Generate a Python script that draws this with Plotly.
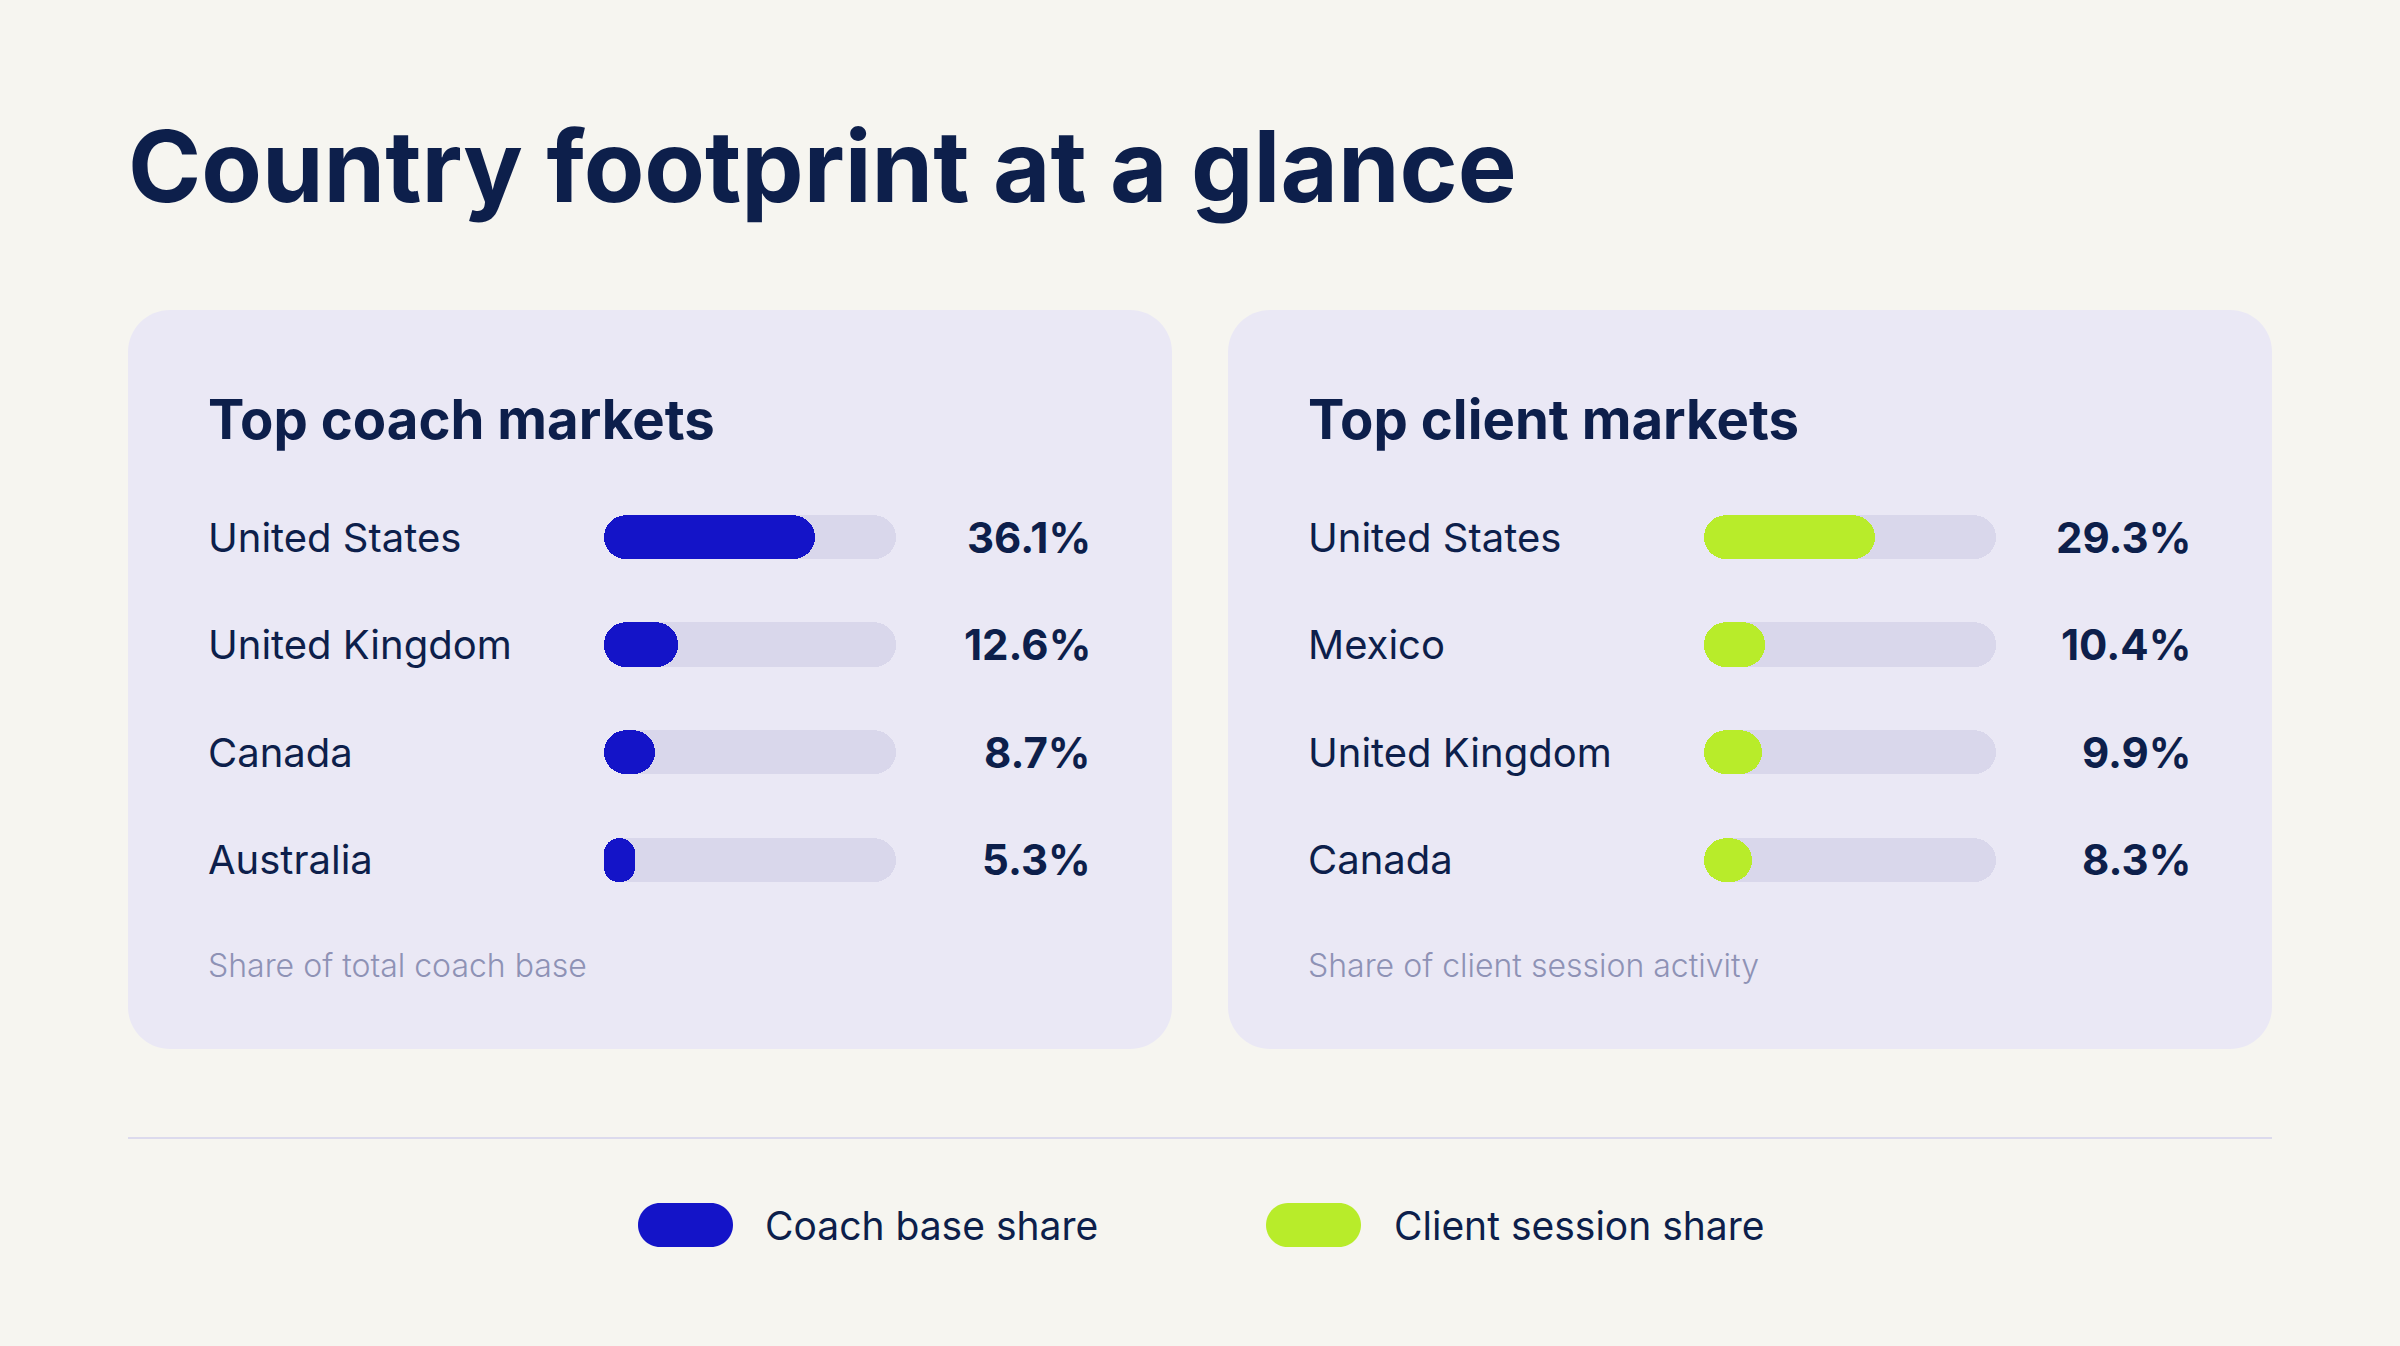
import plotly.graph_objects as go

W, H = 2400, 1346

coach_countries = ["United States", "United Kingdom", "Canada", "Australia"]
coach_share = [36.1, 12.6, 8.7, 5.3]
client_countries = ["United States", "Mexico", "United Kingdom", "Canada"]
client_share = [29.3, 10.4, 9.9, 8.3]
scale_max = 50

BG = "#f6f5f0"
CARD = "#eae8f5"
TRACK = "#d9d7eb"
BLUE = "#1414c8"
GREEN = "#b8ec2a"
INK = "#0d1f4b"
MUTED = "#8e92b5"
FONT = "Inter"

BAR_W = 0.41
RAD = 22


def px(x):
    return x / W


def py(y):
    return 1 - y / H


def round_rect(x0, y0, x1, y1, r):
    # rounded rectangle in paper units, corners drawn with cubic curves
    k = 0.5523 * r
    pts = [
        ("M", [(x0 + r, y0)]),
        ("L", [(x1 - r, y0)]),
        ("C", [(x1 - r + k, y0), (x1, y0 + r - k), (x1, y0 + r)]),
        ("L", [(x1, y1 - r)]),
        ("C", [(x1, y1 - r + k), (x1 - r + k, y1), (x1 - r, y1)]),
        ("L", [(x0 + r, y1)]),
        ("C", [(x0 + r - k, y1), (x0, y1 - r + k), (x0, y1 - r)]),
        ("L", [(x0, y0 + r)]),
        ("C", [(x0, y0 + r - k), (x0 + r - k, y0), (x0 + r, y0)]),
    ]
    s = ""
    for cmd, coords in pts:
        s += cmd + " ".join(f"{px(a):.5f},{py(b):.5f}" for a, b in coords) + " "
    return s + "Z"


def pill(countries, values, color, xa, ya):
    # explicit base -> plotly rounds both ends of the bar
    return go.Bar(
        y=countries, x=values, base=[0] * len(values), orientation="h", width=BAR_W,
        marker=dict(color=color, cornerradius=RAD, line_width=0),
        xaxis=xa, yaxis=ya, hoverinfo="skip", showlegend=False,
    )


fig = go.Figure()
fig.add_trace(pill(coach_countries, [scale_max] * len(coach_countries), TRACK, "x", "y"))
fig.add_trace(pill(coach_countries, coach_share, BLUE, "x", "y"))
fig.add_trace(pill(client_countries, [scale_max] * len(client_countries), TRACK, "x2", "y2"))
fig.add_trace(pill(client_countries, client_share, GREEN, "x2", "y2"))

offset = 1100  # right card shift in px
y_dom = [py(913.8), py(483.2)]
axis_x = dict(range=[0, scale_max], visible=False, fixedrange=True)
axis_y = dict(type="category", range=[len(coach_countries) - 0.5, -0.5],
              visible=False, fixedrange=True)

shapes = [
    dict(type="path", path=round_rect(128, 310, 1172, 1049, 42), xref="paper", yref="paper",
         fillcolor=CARD, line_width=0, layer="below"),
    dict(type="path", path=round_rect(128 + offset, 310, 1172 + offset, 1049, 42), xref="paper",
         yref="paper", fillcolor=CARD, line_width=0, layer="below"),
    dict(type="line", x0=px(128), x1=px(2272), y0=py(1138), y1=py(1138), xref="paper",
         yref="paper", line=dict(color="#dcdaed", width=2), layer="below"),
    dict(type="path", path=round_rect(638, 1203, 733, 1247, 22), xref="paper", yref="paper",
         fillcolor=BLUE, line_width=0),
    dict(type="path", path=round_rect(1266, 1203, 1361, 1247, 22), xref="paper", yref="paper",
         fillcolor=GREEN, line_width=0),
]

ann = []


def text(x, y, s, size, color=INK, weight=400, anchor="left", yref="paper"):
    ann.append(dict(x=x, y=y, xref="paper", yref=yref, text=s, showarrow=False,
                    xanchor=anchor, yanchor="middle",
                    font=dict(family=FONT, size=size, color=color, weight=weight)))


text(px(126), py(166), "Country footprint at a glance", 99, weight=700)

panels = [
    ("Top coach markets", coach_countries, coach_share, "Share of total coach base", 0, "y"),
    ("Top client markets", client_countries, client_share, "Share of client session activity", offset, "y2"),
]
for title, countries, shares, note, dx, yref in panels:
    text(px(206 + dx), py(419), title, 54.5, weight=700)
    for i, (c, v) in enumerate(zip(countries, shares)):
        text(px(206 + dx), i, c, 40, yref=yref)
        text(px(1093 + dx), i, f"{v}%", 42, weight=700, anchor="right", yref=yref)
    text(px(206 + dx), py(965), note, 32, color=MUTED, weight=300)

text(px(763), py(1225), "Coach base share", 39)
text(px(1392), py(1225), "Client session share", 39)

fig.update_layout(
    width=W, height=H,
    margin=dict(l=0, r=0, t=0, b=0),
    paper_bgcolor=BG, plot_bgcolor="rgba(0,0,0,0)",
    barmode="overlay", bargap=0,
    showlegend=False,
    xaxis=dict(axis_x, domain=[px(604), px(896)], anchor="y"),
    yaxis=dict(axis_y, domain=y_dom, anchor="x", categoryarray=coach_countries),
    xaxis2=dict(axis_x, domain=[px(604 + offset), px(896 + offset)], anchor="y2"),
    yaxis2=dict(axis_y, domain=y_dom, anchor="x2", categoryarray=client_countries),
    shapes=shapes,
    annotations=ann,
)

fig.write_html("out.html", config={"displayModeBar": False},
               post_script="document.body.style.margin='0';"
               f"document.body.style.background='{BG}';")
